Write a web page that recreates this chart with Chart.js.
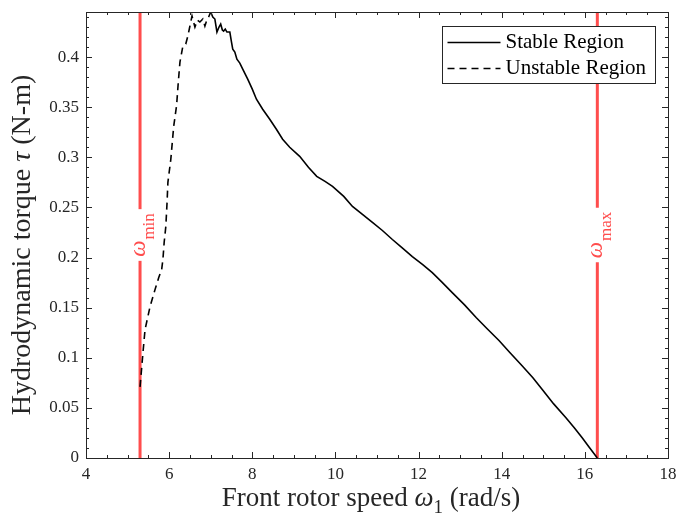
<!DOCTYPE html>
<html>
<head>
<meta charset="utf-8">
<script src="https://cdn.jsdelivr.net/npm/chart.js@4.4.1/dist/chart.umd.min.js"></script>
<style>
  html, body { margin: 0; padding: 0; background: #fff; }
  #wrap { width: 677px; height: 526px; position: relative; }
</style>
</head>
<body>
<div id="wrap"><canvas id="torqueChart"></canvas></div>
<script>
// --- dữ liệu ---
const stableX = [7.0, 7.05, 7.1, 7.15, 7.2, 7.24, 7.28, 7.31, 7.35, 7.39, 7.46, 7.5, 7.53, 7.58, 7.63, 7.7, 7.77, 7.89, 8.0, 8.1, 8.25, 8.42, 8.58, 8.73, 8.9, 9.14, 9.35, 9.55, 9.75, 9.93, 10.2, 10.41, 10.65, 10.89, 11.13, 11.37, 11.6, 11.85, 12.1, 12.33, 12.55, 12.81, 13.1, 13.39, 13.65, 13.94, 14.2, 14.49, 14.75, 14.98, 15.25, 15.55, 15.75, 15.94, 16.1, 16.3];
const stableY = [0.445, 0.44, 0.438, 0.425, 0.43, 0.433, 0.427, 0.426, 0.428, 0.425, 0.425, 0.415, 0.408, 0.405, 0.398, 0.394, 0.388, 0.378, 0.368, 0.358, 0.348, 0.338, 0.328, 0.318, 0.31, 0.301, 0.29, 0.281, 0.276, 0.271, 0.261, 0.251, 0.243, 0.235, 0.227, 0.218, 0.21, 0.201, 0.193, 0.185, 0.176, 0.165, 0.153, 0.14, 0.129, 0.117, 0.105, 0.092, 0.08, 0.068, 0.054, 0.04, 0.03, 0.02, 0.011, 0.0];

const unstableX = [5.3, 5.37, 5.42, 5.54, 5.66, 5.75, 5.82, 5.85, 5.88, 5.92, 5.95, 5.97, 6.04, 6.11, 6.18, 6.22, 6.26, 6.33, 6.4, 6.45, 6.5, 6.55, 6.62, 6.68, 6.74, 6.81, 6.86, 6.9, 6.95, 7.0];
const unstableY = [0.071, 0.105, 0.128, 0.151, 0.168, 0.18, 0.188, 0.198, 0.215, 0.231, 0.255, 0.275, 0.298, 0.331, 0.352, 0.375, 0.395, 0.411, 0.413, 0.421, 0.431, 0.441, 0.43, 0.437, 0.435, 0.438, 0.431, 0.436, 0.44, 0.445];

const omegaLimits = [5.3, 16.3];
const omegaNames = ['min', 'max'];
const seriesNames = ['Stable Region', 'Unstable Region'];

const xTickValues = [4, 6, 8, 10, 12, 14, 16, 18];
const yTickValues = [0, 0.05, 0.1, 0.15, 0.2, 0.25, 0.3, 0.35, 0.4];

const xMin = 4, xMax = 18, yMin = 0, yMax = 0.445;

const SERIF = "'Liberation Serif', 'Times New Roman', serif";
const AXIS_COLOR = '#262626';
const RED = '#ff4d4d';

Chart.defaults.font.family = SERIF;
Chart.defaults.font.size = 17;
Chart.defaults.color = AXIS_COLOR;

const toPoints = (xs, ys) => xs.map((x, i) => ({ x: x, y: ys[i] }));

// bỏ phần đệm tự động của trục để cố định vùng vẽ
const noScalePadding = s => {
    s.paddingLeft = 0; s.paddingRight = 0; s.paddingTop = 0; s.paddingBottom = 0;
};

// vẽ khung, vạch chia hướng vào trong, tiêu đề trục, chú thích
const matlabFrame = {
    id: 'matlabFrame',
    afterDatasetsDraw(chart) {
        const ctx = chart.ctx;
        const xs = chart.scales.x, ys = chart.scales.y;
        const yc = ys.getPixelForValue(0.2225);
        omegaLimits.forEach((w, i) => {
            const px = xs.getPixelForValue(w);
            ctx.save();
            ctx.translate(px, yc);
            ctx.rotate(-Math.PI / 2);
            ctx.font = 'italic 23px ' + SERIF;
            const wW = ctx.measureText('ω').width;
            ctx.font = '17px ' + SERIF;
            const wS = ctx.measureText(omegaNames[i]).width;
            const total = wW + wS + 1;
            ctx.fillStyle = '#fff';
            ctx.fillRect(-total / 2 - 4, -4, total + 8, 8);
            ctx.fillStyle = RED;
            ctx.textBaseline = 'alphabetic';
            ctx.textAlign = 'left';
            ctx.font = 'italic 23px ' + SERIF;
            ctx.fillText('ω', -total / 2, 5);
            ctx.font = '17px ' + SERIF;
            ctx.fillText(omegaNames[i], -total / 2 + wW + 1, 14);
            ctx.restore();
        });
    },
    afterDraw(chart) {
        const ctx = chart.ctx;
        const ca = chart.chartArea;
        const xs = chart.scales.x, ys = chart.scales.y;
        ctx.save();
        ctx.strokeStyle = AXIS_COLOR;
        ctx.lineWidth = 1;
        ctx.strokeRect(Math.round(ca.left) + 0.5, Math.round(ca.top) + 0.5,
            Math.round(ca.right - ca.left), Math.round(ca.bottom - ca.top));

        ctx.beginPath();
        for (let i = 0; i <= 28; i++) {
            const v = xMin + i * 0.5;
            const len = (v % 2 === 0) ? 6 : 3;
            const px = Math.round(xs.getPixelForValue(v)) + 0.5;
            ctx.moveTo(px, ca.bottom); ctx.lineTo(px, ca.bottom - len);
            ctx.moveTo(px, ca.top); ctx.lineTo(px, ca.top + len);
        }
        for (let i = 0; i <= 44; i++) {
            const v = i * 0.01;
            const len = (i % 5 === 0) ? 6 : 3;
            const py = Math.round(ys.getPixelForValue(v)) + 0.5;
            ctx.moveTo(ca.left, py); ctx.lineTo(ca.left + len, py);
            ctx.moveTo(ca.right, py); ctx.lineTo(ca.right - len, py);
        }
        ctx.stroke();

        // tiêu đề trục x
        ctx.fillStyle = AXIS_COLOR;
        ctx.textBaseline = 'alphabetic';
        ctx.textAlign = 'left';
        const parts = [
            { t: 'Front rotor speed ', f: '27px ' + SERIF, dy: 0 },
            { t: 'ω', f: 'italic 27px ' + SERIF, dy: 0 },
            { t: '1', f: '19px ' + SERIF, dy: 7 },
            { t: ' (rad/s)', f: '27px ' + SERIF, dy: 0 }
        ];
        let tw = 0;
        parts.forEach(p => { ctx.font = p.f; p.w = ctx.measureText(p.t).width; tw += p.w; });
        let x0 = (ca.left + ca.right) / 2 - tw / 2 - 6;
        parts.forEach(p => { ctx.font = p.f; ctx.fillText(p.t, x0, 506 + p.dy); x0 += p.w; });

        // tiêu đề trục y
        ctx.save();
        ctx.translate(30, (ca.top + ca.bottom) / 2 + 10);
        ctx.rotate(-Math.PI / 2);
        const yParts = [
            { t: 'Hydrodynamic torque ', f: '28px ' + SERIF },
            { t: 'τ', f: 'italic 28px ' + SERIF },
            { t: ' (N-m)', f: '28px ' + SERIF }
        ];
        tw = 0;
        yParts.forEach(p => { ctx.font = p.f; p.w = ctx.measureText(p.t).width; tw += p.w; });
        x0 = -tw / 2;
        yParts.forEach(p => { ctx.font = p.f; ctx.fillText(p.t, x0, 0); x0 += p.w; });
        ctx.restore();

        // chú thích
        const bx = Math.round(ca.right) - 226 + 0.5, by = Math.round(ca.top) + 14 + 0.5;
        ctx.fillStyle = '#fff';
        ctx.fillRect(bx, by, 213, 57);
        ctx.strokeStyle = AXIS_COLOR;
        ctx.strokeRect(bx, by, 213, 57);
        const rows = [16, 42];
        chart.data.datasets.slice(0, 2).forEach((ds, i) => {
            const ry = by + rows[i];
            ctx.beginPath();
            ctx.strokeStyle = ds.borderColor;
            ctx.lineWidth = ds.borderWidth;
            ctx.setLineDash(ds.borderDash || []);
            ctx.moveTo(bx + 5, ry); ctx.lineTo(bx + 58, ry);
            ctx.stroke();
            ctx.setLineDash([]);
            ctx.fillStyle = '#000';
            ctx.font = '21px ' + SERIF;
            ctx.textBaseline = 'middle';
            ctx.fillText(ds.label, bx + 63, ry);
        });
        ctx.restore();
    }
};

function initializeTorqueChart() {
    const ctx = document.getElementById('torqueChart');

    const datasets = [
        {
            label: seriesNames[0],
            data: toPoints(stableX, stableY),
            borderColor: '#000',
            borderWidth: 1.6,
            pointRadius: 0,
            tension: 0
        },
        {
            label: seriesNames[1],
            data: toPoints(unstableX, unstableY),
            borderColor: '#000',
            borderWidth: 1.6,
            borderDash: [7, 5],
            pointRadius: 0,
            tension: 0
        }
    ];
    omegaLimits.forEach((w, i) => {
        datasets.push({
            label: 'omega_' + omegaNames[i],
            data: [{ x: w, y: yMin }, { x: w, y: yMax }],
            borderColor: RED,
            borderWidth: 3,
            pointRadius: 0
        });
    });

    new Chart(ctx, {
        type: 'line',
        data: { datasets: datasets },
        options: {
            responsive: true,
            maintainAspectRatio: false,
            animation: false,
            layout: { padding: { top: 12, right: 9, left: 0, bottom: 0 } },
            plugins: {
                legend: { display: false },
                tooltip: { enabled: false }
            },
            scales: {
                x: {
                    type: 'linear',
                    min: xMin,
                    max: xMax,
                    afterFit: s => { s.height = 68; noScalePadding(s); },
                    afterBuildTicks: s => { s.ticks = xTickValues.map(v => ({ value: v })); },
                    grid: { display: false, drawTicks: false },
                    border: { display: false },
                    ticks: {
                        padding: 6,
                        maxRotation: 0,
                        autoSkip: false,
                        color: AXIS_COLOR,
                        font: { family: SERIF, size: 17 }
                    }
                },
                y: {
                    type: 'linear',
                    min: yMin,
                    max: yMax,
                    afterFit: s => { s.width = 86; noScalePadding(s); },
                    afterBuildTicks: s => { s.ticks = yTickValues.map(v => ({ value: v })); },
                    grid: { display: false, drawTicks: false },
                    border: { display: false },
                    ticks: {
                        padding: 7,
                        autoSkip: false,
                        color: AXIS_COLOR,
                        font: { family: SERIF, size: 17 },
                        callback: v => String(+v.toFixed(2))
                    }
                }
            }
        },
        plugins: [matlabFrame]
    });
}

document.addEventListener('DOMContentLoaded', () => {
    initializeTorqueChart();
});
</script>
</body>
</html>
